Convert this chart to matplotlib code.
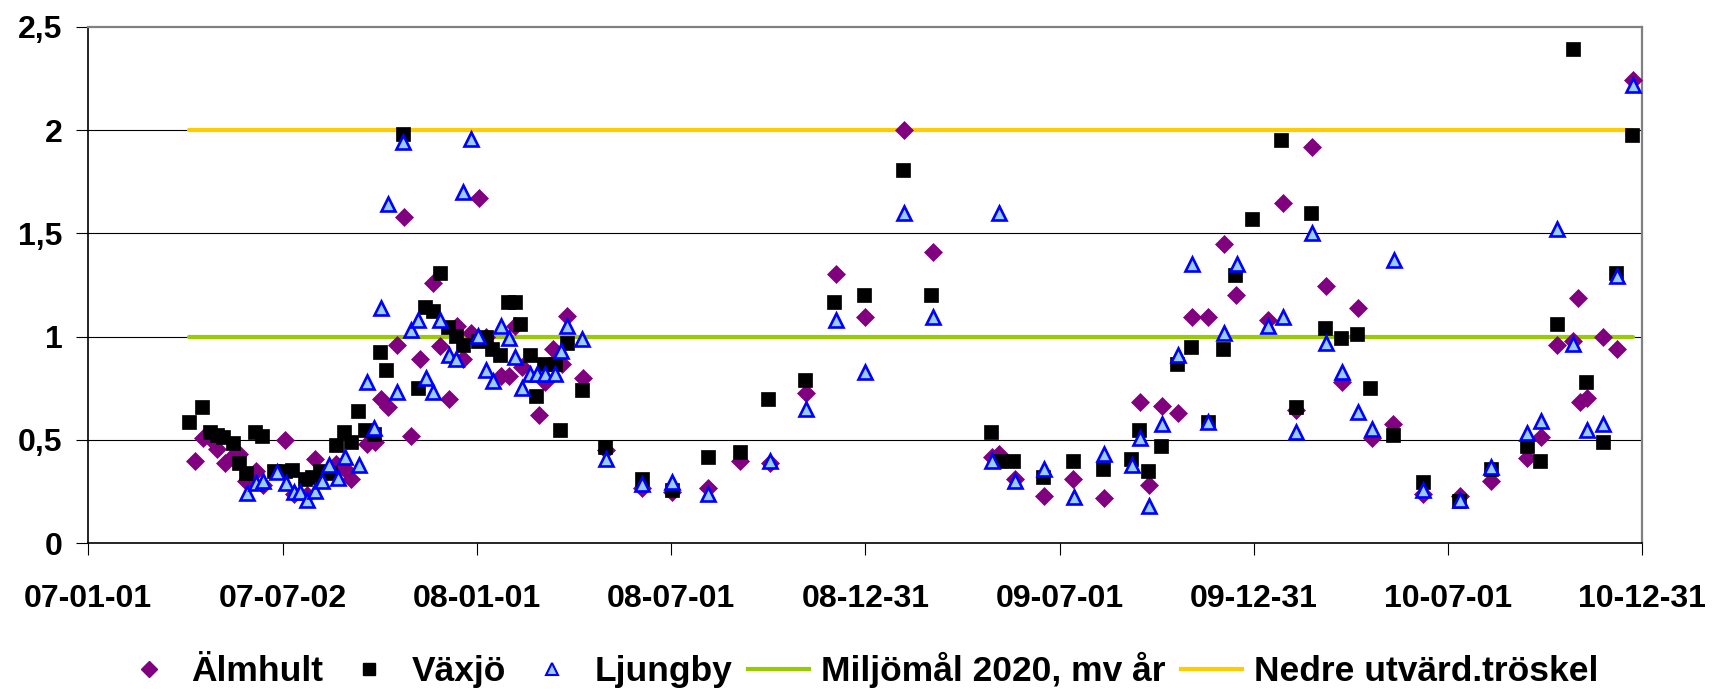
import matplotlib
matplotlib.use("Agg")
import matplotlib.pyplot as plt
import matplotlib.dates as mdates
from matplotlib.lines import Line2D
import numpy as np
import pandas as pd

# ---------------- data ----------------
almhult_dates = [
    "2007-04-11", "2007-04-19", "2007-04-26", "2007-05-02", "2007-05-09", "2007-05-16", "2007-05-23",
    "2007-05-29", "2007-06-08", "2007-06-14", "2007-07-05", "2007-07-13", "2007-07-25", "2007-08-02",
    "2007-08-22", "2007-08-30", "2007-09-05", "2007-09-20", "2007-09-27", "2007-10-03", "2007-10-10",
    "2007-10-18", "2007-10-25", "2007-10-31", "2007-11-09", "2007-11-21", "2007-11-27", "2007-12-06",
    "2007-12-13", "2007-12-19", "2007-12-27", "2008-01-03", "2008-01-10", "2008-01-24", "2008-01-31",
    "2008-02-06", "2008-02-12", "2008-02-28", "2008-03-05", "2008-03-13", "2008-03-21", "2008-03-26",
    "2008-04-10", "2008-05-01", "2008-06-04", "2008-07-02", "2008-08-05", "2008-09-04", "2008-10-02",
    "2008-11-05", "2008-12-03", "2008-12-31", "2009-02-05", "2009-03-05", "2009-04-29", "2009-05-06",
    "2009-05-21", "2009-06-17", "2009-07-14", "2009-08-12", "2009-09-15", "2009-09-24", "2009-10-06",
    "2009-10-21", "2009-11-03", "2009-11-18", "2009-12-03", "2009-12-14", "2010-01-13", "2010-01-27",
    "2010-02-09", "2010-02-24", "2010-03-09", "2010-03-24", "2010-04-08", "2010-04-21", "2010-05-11",
    "2010-06-08", "2010-07-13", "2010-08-11", "2010-09-14", "2010-09-27", "2010-10-12", "2010-10-27",
    "2010-11-01", "2010-11-02", "2010-11-09", "2010-11-24", "2010-12-07", "2010-12-22",
]
almhult = [
    0.40, 0.51, 0.505, 0.455, 0.39, 0.42, 0.43,
    0.30, 0.35, 0.28, 0.50, 0.24, 0.235, 0.41,
    0.385, 0.36, 0.31, 0.48, 0.49, 0.70, 0.66,
    0.96, 1.58, 0.52, 0.89, 1.26, 0.955, 0.70,
    1.05, 0.89, 1.017, 1.67, 1.00, 0.81, 0.81,
    1.05, 0.855, 0.62, 0.78, 0.94, 0.87, 1.10,
    0.80, 0.45, 0.27, 0.25, 0.27, 0.40, 0.39,
    0.725, 1.305, 1.095, 2.00, 1.41, 0.42, 0.43,
    0.31, 0.23, 0.31, 0.22, 0.685, 0.28, 0.665,
    0.63, 1.095, 1.095, 1.45, 1.20, 1.08, 1.647,
    0.645, 1.92, 1.245, 0.78, 1.14, 0.51, 0.575,
    0.24, 0.23, 0.30, 0.415, 0.515, 0.96, 0.98,
    1.185, 0.685, 0.705, 1.00, 0.94, 2.24,
]

vaxjo_dates = [
    "2007-04-06", "2007-04-18", "2007-04-25", "2007-05-02", "2007-05-08", "2007-05-17", "2007-05-23",
    "2007-05-29", "2007-06-07", "2007-06-13", "2007-06-24", "2007-07-05", "2007-07-11", "2007-07-24",
    "2007-07-30", "2007-08-07", "2007-08-16", "2007-08-22", "2007-08-29", "2007-09-05", "2007-09-11",
    "2007-09-18", "2007-09-26", "2007-10-02", "2007-10-08", "2007-10-24", "2007-11-07", "2007-11-13",
    "2007-11-21", "2007-11-27", "2007-12-05", "2007-12-12", "2007-12-19", "2008-01-02", "2008-01-10",
    "2008-01-15", "2008-01-23", "2008-01-30", "2008-02-06", "2008-02-11", "2008-02-20", "2008-02-26",
    "2008-03-04", "2008-03-14", "2008-03-19", "2008-03-26", "2008-04-09", "2008-04-30", "2008-06-04",
    "2008-07-02", "2008-08-05", "2008-09-04", "2008-10-01", "2008-11-04", "2008-12-02", "2008-12-30",
    "2009-02-04", "2009-03-03", "2009-04-28", "2009-05-06", "2009-05-19", "2009-06-16", "2009-07-14",
    "2009-08-11", "2009-09-07", "2009-09-14", "2009-09-23", "2009-10-05", "2009-10-20", "2009-11-02",
    "2009-11-18", "2009-12-02", "2009-12-13", "2009-12-29", "2010-01-26", "2010-02-09", "2010-02-23",
    "2010-03-08", "2010-03-23", "2010-04-07", "2010-04-19", "2010-05-11", "2010-06-08", "2010-07-12",
    "2010-08-11", "2010-09-14", "2010-09-26", "2010-10-12", "2010-10-27", "2010-11-08", "2010-11-24",
    "2010-12-06", "2010-12-21",
]
vaxjo = [
    0.585, 0.66, 0.54, 0.525, 0.515, 0.485, 0.39,
    0.34, 0.54, 0.52, 0.35, 0.35, 0.355, 0.31,
    0.32, 0.35, 0.34, 0.475, 0.54, 0.49, 0.64,
    0.55, 0.53, 0.925, 0.84, 1.98, 0.75, 1.145,
    1.125, 1.31, 1.045, 1.005, 0.96, 0.98, 1.00,
    0.94, 0.91, 1.17, 1.17, 1.06, 0.91, 0.715,
    0.87, 0.87, 0.55, 0.97, 0.74, 0.465, 0.31,
    0.26, 0.42, 0.44, 0.70, 0.79, 1.17, 1.20,
    1.806, 1.20, 0.54, 0.40, 0.40, 0.32, 0.40,
    0.36, 0.41, 0.55, 0.35, 0.47, 0.87, 0.95,
    0.585, 0.94, 1.30, 1.567, 1.95, 0.66, 1.60,
    1.04, 0.995, 1.015, 0.75, 0.525, 0.295, 0.205,
    0.36, 0.47, 0.40, 1.06, 2.39, 0.78, 0.49,
    1.31, 1.975,
]

ljungby_dates = [
    "2007-05-30", "2007-06-08", "2007-06-14", "2007-06-27", "2007-07-06", "2007-07-13", "2007-07-19",
    "2007-07-25", "2007-08-02", "2007-08-09", "2007-08-15", "2007-08-24", "2007-08-30", "2007-09-12",
    "2007-09-20", "2007-09-26", "2007-10-03", "2007-10-10", "2007-10-18", "2007-10-24", "2007-10-31",
    "2007-11-07", "2007-11-14", "2007-11-21", "2007-11-27", "2007-12-06", "2007-12-12", "2007-12-19",
    "2007-12-27", "2008-01-02", "2008-01-10", "2008-01-16", "2008-01-24", "2008-01-31", "2008-02-06",
    "2008-02-12", "2008-02-20", "2008-02-27", "2008-03-05", "2008-03-14", "2008-03-20", "2008-03-26",
    "2008-04-09", "2008-05-01", "2008-06-04", "2008-07-02", "2008-08-05", "2008-10-02", "2008-11-05",
    "2008-12-03", "2008-12-31", "2009-02-05", "2009-03-05", "2009-04-29", "2009-05-06", "2009-05-21",
    "2009-06-17", "2009-07-15", "2009-08-12", "2009-09-08", "2009-09-15", "2009-09-24", "2009-10-06",
    "2009-10-21", "2009-11-03", "2009-11-18", "2009-12-03", "2009-12-15", "2010-01-13", "2010-01-27",
    "2010-02-09", "2010-02-24", "2010-03-09", "2010-03-24", "2010-04-08", "2010-04-21", "2010-05-12",
    "2010-06-08", "2010-07-13", "2010-08-11", "2010-09-14", "2010-09-27", "2010-10-12", "2010-10-27",
    "2010-11-09", "2010-11-24", "2010-12-07", "2010-12-22",
]
ljungby = [
    0.245, 0.29, 0.30, 0.345, 0.29, 0.25, 0.25,
    0.21, 0.255, 0.30, 0.38, 0.315, 0.42, 0.38,
    0.78, 0.56, 1.14, 1.64, 0.73, 1.94, 1.03,
    1.08, 0.80, 0.73, 1.08, 0.91, 0.89, 1.70,
    1.955, 1.005, 0.84, 0.785, 1.05, 0.995, 0.90,
    0.75, 0.82, 0.82, 0.82, 0.82, 0.93, 1.05,
    0.99, 0.41, 0.285, 0.295, 0.24, 0.40, 0.65,
    1.08, 0.83, 1.60, 1.095, 0.40, 1.60, 0.30,
    0.36, 0.225, 0.43, 0.38, 0.51, 0.18, 0.575,
    0.91, 1.35, 0.585, 1.02, 1.35, 1.05, 1.095,
    0.54, 1.50, 0.97, 0.83, 0.635, 0.555, 1.37,
    0.26, 0.21, 0.37, 0.535, 0.59, 1.52, 0.965,
    0.55, 0.575, 1.295, 2.22,
]

goal_level = 1.0        # Miljömål 2020, mv år
threshold_level = 2.0   # Nedre utvärd.tröskel
line_period = ["2007-04-06", "2010-12-22"]

x_start, x_end = "2007-01-01", "2010-12-31"
x_tick_labels = ["07-01-01", "07-07-02", "08-01-01", "08-07-01", "08-12-31",
                 "09-07-01", "09-12-31", "10-07-01", "10-12-31"]
y_ticks = [0, 0.5, 1, 1.5, 2, 2.5]
y_tick_labels = ["0", "0,5", "1", "1,5", "2", "2,5"]

series_names = ["Älmhult", "Växjö", "Ljungby", "Miljömål 2020, mv år", "Nedre utvärd.tröskel"]

# ---------------- style ----------------
plt.rcParams['font.family'] = ['Liberation Sans', 'DejaVu Sans']
plt.rcParams['font.weight'] = 'bold'

PURPLE = "#800080"
BLACK = "#000000"
TRI_FACE = "#99CCFF"
TRI_EDGE = "#0000FF"
GREEN = "#99CC00"
YELLOW = "#FFCC00"

fig = plt.figure(figsize=(17.17, 6.97), dpi=100)
ax = fig.add_axes([0.05143, 0.22052, 0.90507, 0.74117])

to_dt = lambda s: pd.to_datetime(pd.Series(s))

lp = to_dt(line_period)
ax.plot(lp, [goal_level] * len(lp), color=GREEN, lw=3.0, solid_capstyle='round', zorder=3)
ax.plot(lp, [threshold_level] * len(lp), color=YELLOW, lw=3.0, solid_capstyle='round', zorder=3)

ax.plot(to_dt(almhult_dates), almhult, linestyle='none', marker='D', markersize=8.8,
        color=PURPLE, markeredgecolor=PURPLE, markeredgewidth=0.5, zorder=4)
ax.plot(to_dt(vaxjo_dates), vaxjo, linestyle='none', marker='s', markersize=9.8,
        color=BLACK, markeredgecolor=BLACK, markeredgewidth=0.5, zorder=5)
ax.plot(to_dt(ljungby_dates), ljungby, linestyle='none', marker='^', markersize=10.5,
        markerfacecolor=TRI_FACE, markeredgecolor=TRI_EDGE, markeredgewidth=1.9, zorder=6)

x0 = mdates.date2num(pd.Timestamp(x_start))
x1 = mdates.date2num(pd.Timestamp(x_end))
ax.set_xlim(x0, x1)
ax.set_ylim(0, 2.5)
ax.set_xticks(np.linspace(x0, x1, len(x_tick_labels)))
ax.set_xticklabels(x_tick_labels)
ax.set_yticks(y_ticks)
ax.set_yticklabels(y_tick_labels)

for yv in y_ticks[1:-1]:
    ax.axhline(yv, color="#000000", lw=0.8, zorder=1)

for s in ("left", "bottom"):
    ax.spines[s].set_color("#000000")
    ax.spines[s].set_linewidth(1.2)
for s in ("top", "right"):
    ax.spines[s].set_color("#808080")
    ax.spines[s].set_linewidth(1.6)

ax.tick_params(axis='y', direction='out', length=8.5, width=0.8, pad=10, labelsize=23, colors="#000000")
ax.tick_params(axis='x', direction='out', length=8.5, width=0.8, pad=21, labelsize=23, colors="#000000")
for lab in ax.get_xticklabels() + ax.get_yticklabels():
    lab.set_fontweight('bold')

handles = [
    Line2D([], [], linestyle='none', marker='D', markersize=8, color=PURPLE),
    Line2D([], [], linestyle='none', marker='s', markersize=8, color=BLACK),
    Line2D([], [], linestyle='none', marker='^', markersize=8.5, markerfacecolor=TRI_FACE,
           markeredgecolor=TRI_EDGE, markeredgewidth=1.5),
    Line2D([], [], color=GREEN, lw=3.0),
    Line2D([], [], color=YELLOW, lw=3.0),
]
fig.legend(handles, series_names, loc='center', bbox_to_anchor=(0.5, 0.0387), ncol=5,
           frameon=False, prop={'size': 25.5, 'weight': 'bold'}, handlelength=1.7,
           handletextpad=0.35, columnspacing=0.45, borderaxespad=0)

fig.savefig("out.png", dpi=100, facecolor="white")
